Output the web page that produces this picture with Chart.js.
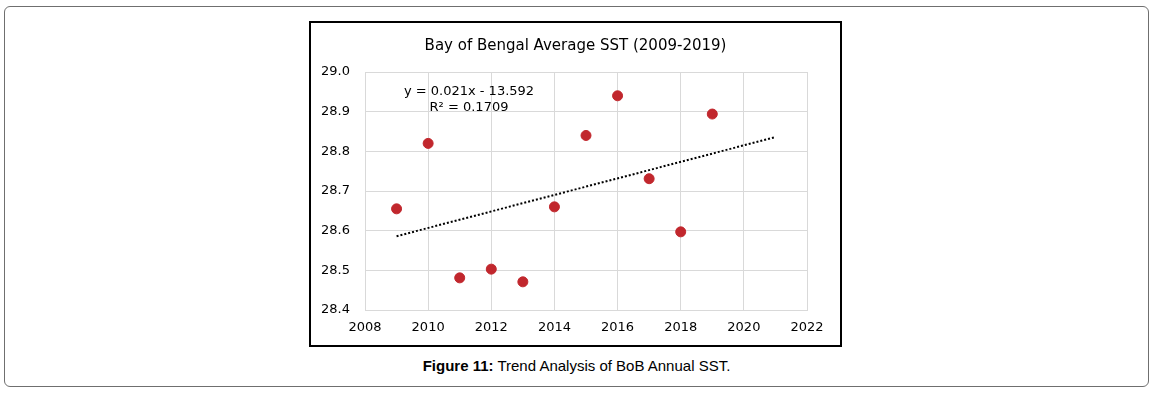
<!DOCTYPE html>
<html>
<head>
<meta charset="utf-8">
<script src="https://cdn.jsdelivr.net/npm/chart.js@4.4.0/dist/chart.umd.min.js"></script>
<style>
    body { margin: 0; background: #fff; }
    .frame {
        position: absolute; left: 4px; top: 6px; width: 1143px; height: 379px;
        border: 1px solid #6f6f6f; border-radius: 6px;
    }
    .chart-box {
        position: absolute; left: 309px; top: 21px; width: 529px; height: 322px;
        border: 2px solid #000;
    }
    .caption {
        position: absolute; left: 4px; top: 357px; width: 1145px; text-align: center;
        font-family: "Liberation Sans", Arial, sans-serif; font-size: 15px; color: #000;
    }
</style>
</head>
<body>
<div class="frame"></div>
<div class="chart-box"><canvas id="sstChart" width="529" height="322"></canvas></div>
<div class="caption"><b>Figure 11:</b> Trend Analysis of BoB Annual SST.</div>

<script>
// values
const years = [2009, 2010, 2011, 2012, 2013, 2014, 2015, 2016, 2017, 2018, 2019];
const sst = [28.655, 28.82, 28.481, 28.503, 28.471, 28.66, 28.84, 28.94, 28.731, 28.597, 28.894];

// linear trendline end points (Excel forecast forward 2 years)
const trendYears = [2009, 2021];
const trendSst = [28.586, 28.836];

const trendLabel = ['y = 0.021x - 13.592', 'R\u00b2 = 0.1709'];
const chartTitle = 'Bay of Bengal Average SST (2009-2019)';

const gridColor = '#d9d9d9';
const tickFont = { family: 'DejaVu Sans', size: 13 };

// title centred on the whole chart box, plus Excel's trendline label
const labelPlugin = {
    id: 'textLabels',
    afterDatasetsDraw(chart) {
        const c = chart.ctx;
        const area = chart.chartArea;
        c.save();
        c.fillStyle = '#000';
        c.textAlign = 'center';
        c.textBaseline = 'middle';
        c.font = '15px "DejaVu Sans"';
        c.fillText(chartTitle, chart.width / 2, 23);
        c.font = '13px "DejaVu Sans"';
        c.fillText(trendLabel[0], area.left + 104, area.top + 20);
        c.fillText(trendLabel[1], area.left + 104, area.top + 36);
        c.restore();
    }
};

document.addEventListener('DOMContentLoaded', function () {
    const ctx = document.getElementById('sstChart').getContext('2d');

    new Chart(ctx, {
        type: 'scatter',
        data: {
            datasets: [{
                data: years.map((y, i) => ({ x: y, y: sst[i] })),
                backgroundColor: '#c1272d',
                borderColor: '#c1272d',
                pointRadius: 5,
                pointHoverRadius: 5
            }, {
                type: 'line',
                data: trendYears.map((y, i) => ({ x: y, y: trendSst[i] })),
                borderColor: '#000',
                borderWidth: 2,
                borderDash: [2, 2],
                pointRadius: 0,
                fill: false
            }]
        },
        options: {
            responsive: false,
            animation: false,
            layout: { padding: { left: 0, right: 33, top: 49, bottom: 0 } },
            scales: {
                x: {
                    type: 'linear',
                    min: 2008,
                    max: 2022,
                    afterFit: (scale) => { scale.height = 35; },
                    ticks: {
                        stepSize: 2,
                        padding: 10,
                        color: '#000',
                        font: tickFont,
                        maxRotation: 0,
                        callback: (v) => String(v)
                    },
                    grid: { color: gridColor, drawTicks: false },
                    border: { color: gridColor }
                },
                y: {
                    min: 28.4,
                    max: 29.0,
                    afterFit: (scale) => { scale.width = 54; },
                    ticks: {
                        stepSize: 0.1,
                        padding: 15,
                        color: '#000',
                        font: tickFont,
                        callback: (v) => v.toFixed(1)
                    },
                    grid: { color: gridColor, drawTicks: false },
                    border: { color: gridColor }
                }
            },
            plugins: {
                legend: { display: false },
                tooltip: { enabled: false },
                title: { display: false }
            }
        },
        plugins: [labelPlugin]
    });
});
</script>
</body>
</html>
